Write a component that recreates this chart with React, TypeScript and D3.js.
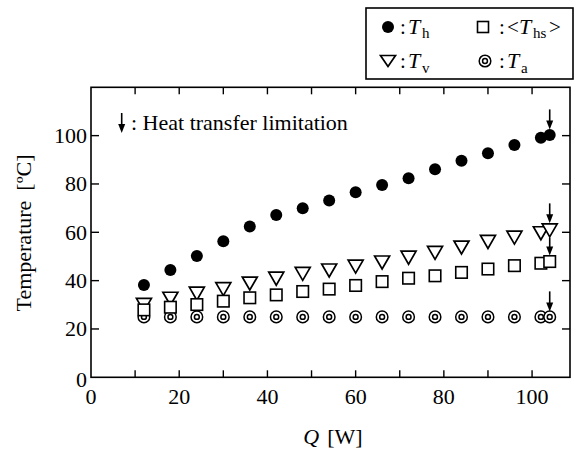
import React from "react";
import * as d3 from "d3";

const Q = [12, 18, 24, 30, 36, 42, 48, 54, 60, 66, 72, 78, 84, 90, 96, 102, 104];
const Th = [38.2, 44.4, 50.2, 56.3, 62.4, 67.2, 70.0, 73.2, 76.6, 79.6, 82.4, 86.1, 89.6, 92.7, 96.1, 99.1, 100.3];
const Ths = [27.9, 29.0, 30.1, 31.5, 32.9, 34.1, 35.5, 36.5, 38.0, 39.6, 41.0, 42.0, 43.4, 44.8, 46.2, 47.2, 47.9];
const Tv = [30.0, 32.5, 34.6, 36.5, 38.8, 40.8, 42.8, 44.2, 45.8, 47.5, 49.5, 51.5, 53.7, 56.0, 57.8, 59.6, 60.8];
const Ta = [25, 25, 25, 25, 25, 25, 25, 25, 25, 25, 25, 25, 25, 25, 25, 25, 25];

const xTicksMajor = [0, 20, 40, 60, 80, 100];
const xTicksAll = [10, 20, 30, 40, 50, 60, 70, 80, 90, 100];
const yTicks = [0, 20, 40, 60, 80, 100];

const W = 576, H = 449;
const L = 91, R = 570, T = 87.3, B = 377.3;
const FONT = "'Liberation Serif', 'Times New Roman', serif";

const x = d3.scaleLinear().domain([0, 108.6]).range([L, R]);
const y = d3.scaleLinear().domain([0, 120]).range([B, T]);

function Arrow({ cx, tip, len = 20 }: { cx: number; tip: number; len?: number }) {
  return (
    <g>
      <line x1={cx} x2={cx} y1={tip - len} y2={tip - 6} stroke="#000" strokeWidth={1.6} />
      <path d={`M${cx - 3.5},${tip - 9} L${cx + 3.5},${tip - 9} L${cx},${tip} Z`} fill="#000" />
    </g>
  );
}

function Tri({ cx, cy, w = 15, h = 13 }: { cx: number; cy: number; w?: number; h?: number }) {
  return (
    <path
      d={`M${cx - w / 2},${cy - h / 2} L${cx + w / 2},${cy - h / 2} L${cx},${cy + h / 2} Z`}
      fill="#fff"
      stroke="#000"
      strokeWidth={1.7}
      strokeLinejoin="miter"
    />
  );
}

function Sq({ cx, cy, s = 11.5 }: { cx: number; cy: number; s?: number }) {
  return <rect x={cx - s / 2} y={cy - s / 2} width={s} height={s} fill="#fff" stroke="#000" strokeWidth={1.6} />;
}

function DC({ cx, cy, r = 5.8 }: { cx: number; cy: number; r?: number }) {
  return (
    <g>
      <circle cx={cx} cy={cy} r={r} fill="#fff" stroke="#000" strokeWidth={1.5} />
      <circle cx={cx} cy={cy} r={r * 0.42} fill="#fff" stroke="#000" strokeWidth={1.5} />
    </g>
  );
}

export default function App() {
  const last = Q.length - 1;
  const xl = x(Q[last]);
  return (
    <svg width={W} height={H} style={{ position: "absolute", left: 0, top: 0, background: "#fff" }} fontFamily={FONT}>
      <rect x={0} y={0} width={W} height={H} fill="#fff" />
      {/* legend box */}
      <rect x={366} y={8} width={207} height={71} fill="#fff" stroke="#000" strokeWidth={1.6} />
      <circle cx={388} cy={27} r={6} fill="#000" />
      <text x={400} y={34} fontSize={21}>:</text>
      <text x={408} y={34} fontSize={22} fontStyle="italic">T</text>
      <text x={422} y={38} fontSize={15}>h</text>
      <Sq cx={483} cy={27} s={11} />
      <text x={499} y={34} fontSize={21}>:</text>
      <text x={507} y={34} fontSize={21}>&lt;</text>
      <text x={519} y={34} fontSize={22} fontStyle="italic">T</text>
      <text x={533} y={38} fontSize={15}>hs</text>
      <text x={549} y={34} fontSize={21}>&gt;</text>
      <Tri cx={388} cy={61} w={15} h={11} />
      <text x={400} y={68} fontSize={21}>:</text>
      <text x={408} y={68} fontSize={22} fontStyle="italic">T</text>
      <text x={422} y={73} fontSize={15}>v</text>
      <DC cx={485} cy={61} r={5.8} />
      <text x={499} y={68} fontSize={21}>:</text>
      <text x={507} y={68} fontSize={22} fontStyle="italic">T</text>
      <text x={521} y={73} fontSize={15}>a</text>

      {/* plot frame */}
      <rect x={L} y={T} width={R - L} height={B - T} fill="none" stroke="#000" strokeWidth={1.6} />
      {xTicksAll.map((t) => (
        <g key={"xt" + t}>
          <line x1={x(t)} x2={x(t)} y1={B} y2={B - 7} stroke="#000" strokeWidth={1.4} />
          <line x1={x(t)} x2={x(t)} y1={T} y2={T + 7} stroke="#000" strokeWidth={1.4} />
        </g>
      ))}
      {yTicks.slice(1).map((t) => (
        <g key={"yt" + t}>
          <line x1={L} x2={L + 8} y1={y(t)} y2={y(t)} stroke="#000" strokeWidth={1.4} />
          <line x1={R} x2={R - 8} y1={y(t)} y2={y(t)} stroke="#000" strokeWidth={1.4} />
        </g>
      ))}
      {xTicksMajor.map((t) => (
        <text key={"xl" + t} x={x(t)} y={404} fontSize={22} textAnchor="middle">{t}</text>
      ))}
      {yTicks.map((t) => (
        <text key={"yl" + t} x={87} y={y(t) + (t === 0 ? 10 : 7.5)} fontSize={22} textAnchor="end">{t}</text>
      ))}
      <text x={333} y={444} fontSize={22} textAnchor="middle">
        <tspan fontStyle="italic">Q</tspan>
        <tspan dx={8}>[W]</tspan>
      </text>
      <text transform={`translate(31,233) rotate(-90)`} fontSize={22} textAnchor="middle">
        <tspan>Temperature</tspan>
        <tspan dx={10}>[ºC]</tspan>
      </text>

      {/* annotation */}
      <Arrow cx={121.7} tip={133} len={20} />
      <text x={131} y={130} fontSize={22}>: Heat transfer limitation</text>

      {/* data */}
      {Q.map((q, i) => <DC key={"a" + i} cx={x(q)} cy={y(Ta[i])} />)}
      {Q.map((q, i) => <Tri key={"v" + i} cx={x(q)} cy={y(Tv[i])} />)}
      {Q.map((q, i) => <Sq key={"s" + i} cx={x(q)} cy={y(Ths[i])} />)}
      {Q.map((q, i) => <circle key={"h" + i} cx={x(q)} cy={y(Th[i])} r={6} fill="#000" />)}

      {/* limitation arrows */}
      <Arrow cx={xl} tip={y(Th[last]) - 5.5} />
      <Arrow cx={xl} tip={y(Tv[last]) - 7} />
      <Arrow cx={xl} tip={y(Ths[last]) - 6} len={18} />
      <Arrow cx={xl} tip={y(Ta[last]) - 5.5} />
    </svg>
  );
}
